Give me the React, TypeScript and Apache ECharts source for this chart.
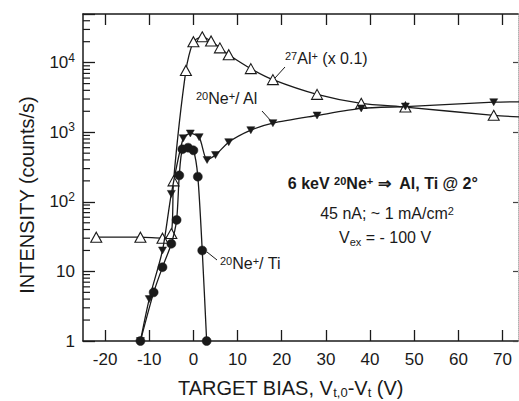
import React, { useEffect, useRef } from 'react';
import * as echarts from 'echarts';

// ---- data ----
const xTickValues = [-20, -10, 0, 10, 20, 30, 40, 50, 60, 70];
const yMajorValues = [1, 10, 100, 1000, 10000];
const yMinorValues = [
  2, 3, 4, 5, 6, 7, 8, 9,
  20, 30, 40, 50, 60, 70, 80, 90,
  200, 300, 400, 500, 600, 700, 800, 900,
  2000, 3000, 4000, 5000, 6000, 7000, 8000, 9000,
  20000, 30000, 40000,
];

// 27Al+ (x 0.1) – open triangles
const alBias = [-22, -12, -7, -5, -4.5, -1.7, 0, 2, 4, 6, 8, 13, 18, 28, 38, 48, 68, 78];
const alIntensity = [31, 31, 30, 35, 200, 7700, 20000, 23500, 20500, 16300, 13000, 8200, 5700, 3500, 2600, 2300, 1750, 1600];

// 20Ne+ / Al – filled down triangles
const neAlBias = [-12, -10, -7, -5, -2.3, -0.7, 1.3, 3.1, 5, 8, 13, 18, 28, 38, 48, 68, 78];
const neAlIntensity = [1, 4, 20, 130, 820, 960, 850, 400, 470, 720, 1070, 1350, 1740, 2200, 2340, 2700, 2750];

// 20Ne+ / Ti – filled circles
const neTiBias = [-12, -9, -7, -5, -3.8, -3.2, -2.5, -1.2, 0, 1, 2, 3];
const neTiIntensity = [1, 5, 11.5, 25, 55, 240, 570, 600, 550, 230, 20, 1];

const X_MIN = -25;
const X_MAX = 73.5;
const Y_MIN = 1;
const Y_MAX = 50000;

const GRID_LEFT = 83;
const FONT = "'Liberation Sans', Arial, Helvetica, sans-serif";
const INK = '#1a1a1a';

function pairs(xs: number[], ys: number[]) {
  return xs.map((x, i) => [x, ys[i]]);
}

export default function App() {
  const ref = useRef<HTMLDivElement>(null);

  useEffect(() => {
    if (!ref.current) return;
    const chart = echarts.init(ref.current, null, { renderer: 'svg' });
    const logMax = Math.log10(Y_MAX);
    const supRich = {
      b: { fontSize: 17, fontFamily: FONT, color: INK, lineHeight: 22 },
      s: { fontSize: 12, fontFamily: FONT, color: INK, verticalAlign: 'top', lineHeight: 12 },
    };

    const lineStyle = { color: INK, width: 1.3 };

    const baseGraphics: any[] = [
      {
        type: 'text',
        x: 178,
        y: 388,
        style: {
          text: 'TARGET BIAS, V{sub|t,0}-V{sub|t} (V)',
          fontSize: 20,
          fontFamily: FONT,
          fill: INK,
          align: 'left',
          verticalAlign: 'middle',
          rich: {
            sub: { fontSize: 13, fontFamily: FONT, fill: INK, verticalAlign: 'bottom', padding: [8, 0, 0, 0] },
          },
        },
      },
      {
        type: 'text',
        x: 27,
        y: 195,
        rotation: Math.PI / 2,
        style: {
          text: 'INTENSITY (counts/s)',
          fontSize: 20,
          fontFamily: FONT,
          fill: INK,
          align: 'center',
          verticalAlign: 'middle',
        },
      },
      {
        type: 'text',
        x: 285,
        y: 58,
        style: {
          text: '{s|27}Al{s|+} (x 0.1)',
          fontSize: 16,
          fontFamily: FONT,
          fill: INK,
          align: 'left',
          verticalAlign: 'middle',
          rich: { s: { fontSize: 11, fontFamily: FONT, fill: INK, verticalAlign: 'top' } },
        },
      },
      {
        type: 'text',
        x: 196,
        y: 98,
        style: {
          text: '{s|20}Ne{s|+}/ Al',
          fontSize: 16,
          fontFamily: FONT,
          fill: INK,
          align: 'left',
          verticalAlign: 'middle',
          rich: { s: { fontSize: 11, fontFamily: FONT, fill: INK, verticalAlign: 'top' } },
        },
      },
      {
        type: 'text',
        x: 220,
        y: 263,
        style: {
          text: '{s|20}Ne{s|+}/ Ti',
          fontSize: 16,
          fontFamily: FONT,
          fill: INK,
          align: 'left',
          verticalAlign: 'middle',
          rich: { s: { fontSize: 11, fontFamily: FONT, fill: INK, verticalAlign: 'top' } },
        },
      },
      {
        type: 'text',
        x: 383,
        y: 183,
        style: {
          text: '6 keV {s|20}Ne{s|+} \u21D2  Al, Ti @ 2°',
          fontSize: 16,
          fontWeight: 'bold',
          fontFamily: FONT,
          fill: INK,
          align: 'center',
          verticalAlign: 'middle',
          rich: { s: { fontSize: 11, fontWeight: 'bold', fontFamily: FONT, fill: INK, verticalAlign: 'top' } },
        },
      },
      {
        type: 'text',
        x: 387,
        y: 213,
        style: {
          text: '45 nA; ~ 1 mA/cm{s|2}',
          fontSize: 16,
          fontFamily: FONT,
          fill: INK,
          align: 'center',
          verticalAlign: 'middle',
          rich: { s: { fontSize: 11, fontFamily: FONT, fill: INK, verticalAlign: 'top' } },
        },
      },
      {
        type: 'text',
        x: 385,
        y: 237,
        style: {
          text: 'V{u|ex} = - 100 V',
          fontSize: 16,
          fontFamily: FONT,
          fill: INK,
          align: 'center',
          verticalAlign: 'middle',
          rich: { u: { fontSize: 11, fontFamily: FONT, fill: INK, verticalAlign: 'bottom', padding: [10, 0, 0, 0] } },
        },
      },
      { type: 'line', shape: { x1: 285, y1: 67, x2: 275, y2: 78 }, style: { stroke: INK, lineWidth: 1 } },
      { type: 'line', shape: { x1: 262, y1: 111, x2: 272, y2: 122 }, style: { stroke: INK, lineWidth: 1 } },
      { type: 'line', shape: { x1: 217, y1: 260, x2: 207, y2: 252 }, style: { stroke: INK, lineWidth: 1 } },
    ];

    chart.setOption({
      animation: false,
      backgroundColor: '#ffffff',
      grid: { left: GRID_LEFT, right: 1, top: 14, bottom: 60, containLabel: false },
      xAxis: [
        {
          type: 'value',
          min: X_MIN,
          max: X_MAX,
          position: 'bottom',
          axisLine: { show: true, onZero: false, lineStyle: { color: INK, width: 1.5 } },
          axisTick: { show: true, inside: true, length: 11, lineStyle: { color: INK, width: 1.3 }, customValues: xTickValues },
          axisLabel: { show: true, customValues: xTickValues, fontSize: 17, fontFamily: FONT, color: INK, margin: 10 },
          splitLine: { show: false },
        },
        {
          type: 'value',
          min: X_MIN,
          max: X_MAX,
          position: 'top',
          axisLine: { show: true, onZero: false, lineStyle: { color: INK, width: 1.5 } },
          axisTick: { show: true, inside: true, length: 11, lineStyle: { color: INK, width: 1.3 }, customValues: xTickValues },
          axisLabel: { show: false },
          splitLine: { show: false },
        },
      ],
      yAxis: [
        {
          type: 'log',
          logBase: 10,
          min: Y_MIN,
          max: Y_MAX,
          position: 'left',
          axisLine: { show: true, onZero: false, lineStyle: { color: INK, width: 1.5 } },
          axisTick: { show: true, inside: true, length: 12, lineStyle: { color: INK, width: 1.3 } },
          axisLabel: {
            show: true,
            margin: 8,
            fontSize: 17,
            fontFamily: FONT,
            color: INK,
            formatter: (v: number) => {
              const l = Math.log10(v);
              const e = Math.round(l);
              if (Math.abs(l - e) > 1e-6 || yMajorValues.indexOf(Math.pow(10, e)) < 0) return '';
              if (e === 0) return '{b|1}';
              if (e === 1) return '{b|10}';
              return `{b|10}{s|${e}}`;
            },
            rich: supRich,
          },
          splitLine: { show: false },
        },
        {
          type: 'value',
          min: 0,
          max: logMax,
          position: 'right',
          axisLine: { show: true, onZero: false, lineStyle: { color: '#b0b0b0', width: 1, type: 'dotted' } },
          axisTick: { show: true, inside: true, length: 5, lineStyle: { color: '#444', width: 1.2 }, customValues: yMajorValues.map((v) => Math.log10(v)) },
          axisLabel: { show: false },
          splitLine: { show: false },
        },
      ],
      series: [
        {
          name: '27Al+ (x0.1)',
          type: 'line',
          xAxisIndex: 0,
          yAxisIndex: 0,
          data: pairs(alBias, alIntensity),
          smooth: 0.25,
          clip: true,
          symbol: 'triangle',
          symbolSize: [11, 10],
          lineStyle,
          itemStyle: { color: '#ffffff', borderColor: INK, borderWidth: 1.1 },
          z: 3,
        },
        {
          name: '20Ne+/Al',
          type: 'line',
          xAxisIndex: 0,
          yAxisIndex: 0,
          data: pairs(neAlBias, neAlIntensity),
          smooth: 0.25,
          clip: true,
          symbol: 'triangle',
          symbolRotate: 180,
          symbolSize: [8, 7],
          lineStyle,
          itemStyle: { color: INK, borderColor: INK, borderWidth: 0.5 },
          z: 4,
        },
        {
          name: '20Ne+/Ti',
          type: 'line',
          xAxisIndex: 0,
          yAxisIndex: 0,
          data: pairs(neTiBias, neTiIntensity),
          smooth: 0.25,
          clip: true,
          symbol: 'circle',
          symbolSize: 9,
          lineStyle,
          itemStyle: { color: INK, borderColor: INK, borderWidth: 0.5 },
          z: 5,
        },
      ],
      graphic: baseGraphics,
    });

    // minor log ticks on the left axis: heights through the log scale, from the axis line inward
    const x0 = GRID_LEFT;
    const minorTicks: any[] = [];
    for (const v of yMinorValues) {
      const p = chart.convertToPixel({ yAxisIndex: 0 }, v) as any;
      const y = Array.isArray(p) ? p[1] : p;
      if (typeof y === 'number' && isFinite(y)) {
        minorTicks.push({
          type: 'line',
          shape: { x1: x0, y1: y, x2: x0 + 7, y2: y },
          style: { stroke: INK, lineWidth: 1.2 },
          z: 100,
        });
      }
    }
    chart.setOption({ graphic: [...baseGraphics, ...minorTicks] });

    return () => {
      chart.dispose();
    };
  }, []);

  return (
    <div
      ref={ref}
      style={{ position: 'fixed', left: 0, top: 0, width: 519, height: 401, background: '#fff' }}
    />
  );
}
